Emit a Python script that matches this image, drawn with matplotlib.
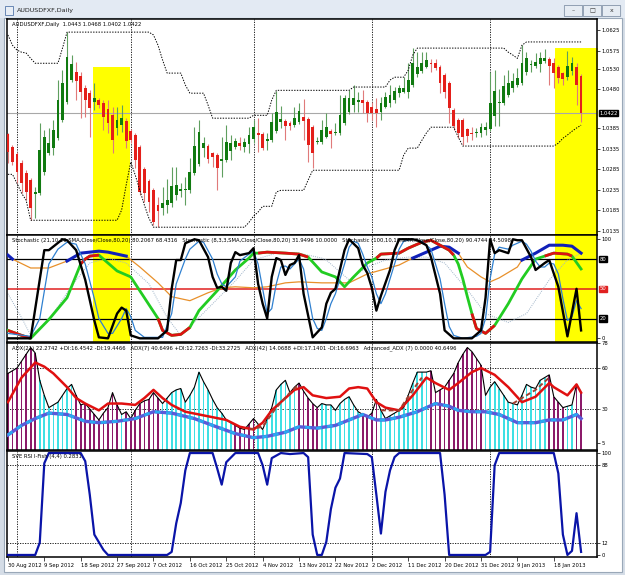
import numpy as np
import matplotlib
matplotlib.use("Agg")
import matplotlib.pyplot as plt
import matplotlib.transforms as mtransforms
from matplotlib.patches import Rectangle, FancyBboxPatch

W, H = 625, 575

## ---- price data (daily AUDUSDFXF) ----
opens = [1.0371, 1.0339, 1.0322, 1.0300, 1.0276, 1.0259, 1.0225, 1.0227, 1.0278, 1.0325,
         1.0337, 1.0361, 1.0405, 1.0449, 1.0503, 1.0522, 1.0513, 1.0483, 1.0471, 1.0449,
         1.0454, 1.0447, 1.0432, 1.0417, 1.0386, 1.0393, 1.0403, 1.0378, 1.0369, 1.0339,
         1.0286, 1.0256, 1.0234, 1.0198, 1.0190, 1.0198, 1.0203, 1.0222, 1.0232, 1.0234,
         1.0234, 1.0276, 1.0298, 1.0337, 1.0342, 1.0325, 1.0320, 1.0305, 1.0308, 1.0330,
         1.0339, 1.0349, 1.0339, 1.0347, 1.0359, 1.0374, 1.0371, 1.0354, 1.0356, 1.0378,
         1.0400, 1.0403, 1.0398, 1.0393, 1.0400, 1.0413, 1.0408, 1.0388, 1.0352, 1.0352,
         1.0364, 1.0378, 1.0374, 1.0374, 1.0398, 1.0425, 1.0442, 1.0449, 1.0454, 1.0449,
         1.0437, 1.0432, 1.0425, 1.0437, 1.0447, 1.0454, 1.0471, 1.0474, 1.0474, 1.0491,
         1.0517, 1.0525, 1.0535, 1.0544, 1.0544, 1.0535, 1.0515, 1.0495, 1.0430, 1.0405,
         1.0405, 1.0383, 1.0374, 1.0374, 1.0374, 1.0381, 1.0383, 1.0415, 1.0447, 1.0447,
         1.0466, 1.0483, 1.0491, 1.0495, 1.0522, 1.0539, 1.0537, 1.0542, 1.0549, 1.0554,
         1.0544, 1.0535, 1.0520, 1.0510, 1.0525, 1.0535, 1.0513]
closes = [1.0327, 1.0303, 1.0278, 1.0251, 1.0230, 1.0190, 1.0230, 1.0332, 1.0364, 1.0349,
          1.0381, 1.0454, 1.0495, 1.0559, 1.0542, 1.0500, 1.0474, 1.0454, 1.0434, 1.0459,
          1.0442, 1.0413, 1.0398, 1.0356, 1.0405, 1.0410, 1.0354, 1.0356, 1.0308, 1.0230,
          1.0227, 1.0205, 1.0156, 1.0183, 1.0203, 1.0210, 1.0244, 1.0247, 1.0237, 1.0237,
          1.0278, 1.0342, 1.0376, 1.0349, 1.0310, 1.0315, 1.0288, 1.0310, 1.0352, 1.0349,
          1.0354, 1.0342, 1.0352, 1.0369, 1.0388, 1.0369, 1.0337, 1.0359, 1.0400, 1.0425,
          1.0408, 1.0391, 1.0391, 1.0410, 1.0427, 1.0403, 1.0344, 1.0325, 1.0354, 1.0381,
          1.0388, 1.0371, 1.0376, 1.0417, 1.0459, 1.0459, 1.0459, 1.0454, 1.0447, 1.0422,
          1.0422, 1.0422, 1.0447, 1.0461, 1.0466, 1.0476, 1.0483, 1.0483, 1.0503, 1.0544,
          1.0535, 1.0544, 1.0552, 1.0542, 1.0532, 1.0495, 1.0474, 1.0434, 1.0391, 1.0374,
          1.0364, 1.0366, 1.0371, 1.0376, 1.0388, 1.0388, 1.0447, 1.0476, 1.0449, 1.0488,
          1.0495, 1.0500, 1.0508, 1.0544, 1.0556, 1.0542, 1.0547, 1.0556, 1.0556, 1.0537,
          1.0520, 1.0508, 1.0505, 1.0537, 1.0544, 1.0491, 1.0422]
highs = [1.0373, 1.0344, 1.0327, 1.0308, 1.0283, 1.0264, 1.0242, 1.0398, 1.0381, 1.0386,
         1.0405, 1.0503, 1.0527, 1.0620, 1.0564, 1.0547, 1.0522, 1.0491, 1.0478, 1.0495,
         1.0459, 1.0454, 1.0454, 1.0437, 1.0437, 1.0442, 1.0410, 1.0383, 1.0374, 1.0344,
         1.0291, 1.0261, 1.0239, 1.0217, 1.0242, 1.0261, 1.0291, 1.0291, 1.0251, 1.0266,
         1.0312, 1.0388, 1.0405, 1.0364, 1.0347, 1.0327, 1.0325, 1.0364, 1.0393, 1.0369,
         1.0361, 1.0364, 1.0361, 1.0388, 1.0405, 1.0410, 1.0376, 1.0374, 1.0422, 1.0476,
         1.0439, 1.0408, 1.0403, 1.0437, 1.0447, 1.0456, 1.0413, 1.0393, 1.0364, 1.0405,
         1.0422, 1.0383, 1.0398, 1.0466, 1.0466, 1.0478, 1.0491, 1.0474, 1.0478, 1.0454,
         1.0449, 1.0459, 1.0461, 1.0474, 1.0491, 1.0486, 1.0491, 1.0510, 1.0544, 1.0581,
         1.0571, 1.0571, 1.0571, 1.0554, 1.0554, 1.0539, 1.0520, 1.0500, 1.0434, 1.0410,
         1.0410, 1.0386, 1.0388, 1.0386, 1.0398, 1.0400, 1.0522, 1.0527, 1.0481, 1.0515,
         1.0527, 1.0520, 1.0532, 1.0588, 1.0571, 1.0552, 1.0569, 1.0571, 1.0578, 1.0559,
         1.0556, 1.0539, 1.0522, 1.0574, 1.0559, 1.0544, 1.0517]
lows = [1.0300, 1.0295, 1.0251, 1.0227, 1.0210, 1.0161, 1.0166, 1.0222, 1.0271, 1.0320,
        1.0320, 1.0356, 1.0400, 1.0444, 1.0498, 1.0454, 1.0410, 1.0413, 1.0364, 1.0430,
        1.0434, 1.0381, 1.0374, 1.0325, 1.0369, 1.0376, 1.0337, 1.0349, 1.0288, 1.0222,
        1.0205, 1.0181, 1.0149, 1.0144, 1.0173, 1.0178, 1.0193, 1.0210, 1.0217, 1.0198,
        1.0227, 1.0271, 1.0293, 1.0315, 1.0300, 1.0291, 1.0234, 1.0266, 1.0303, 1.0308,
        1.0335, 1.0332, 1.0327, 1.0325, 1.0349, 1.0327, 1.0332, 1.0332, 1.0352, 1.0374,
        1.0386, 1.0356, 1.0381, 1.0388, 1.0395, 1.0356, 1.0303, 1.0288, 1.0347, 1.0347,
        1.0361, 1.0337, 1.0369, 1.0369, 1.0393, 1.0420, 1.0425, 1.0425, 1.0422, 1.0400,
        1.0405, 1.0388, 1.0405, 1.0434, 1.0437, 1.0447, 1.0461, 1.0471, 1.0459, 1.0486,
        1.0510, 1.0520, 1.0532, 1.0522, 1.0527, 1.0471, 1.0459, 1.0398, 1.0381, 1.0361,
        1.0344, 1.0352, 1.0356, 1.0364, 1.0364, 1.0369, 1.0378, 1.0391, 1.0391, 1.0442,
        1.0461, 1.0474, 1.0486, 1.0491, 1.0515, 1.0522, 1.0532, 1.0522, 1.0544, 1.0491,
        1.0483, 1.0495, 1.0491, 1.0503, 1.0515, 1.0442, 1.0400]

## channel (dotted envelope)
chan_upper = [1.0613, 1.0588, 1.0576, 1.0571, 1.0569, 1.0556, 1.0544, 1.0544, 1.0544, 1.0544,
              1.0544, 1.0544, 1.0581, 1.0620, 1.0620, 1.0620, 1.0620, 1.0620, 1.0620, 1.0620,
              1.0620, 1.0620, 1.0620, 1.0620, 1.0620, 1.0620, 1.0620, 1.0620, 1.0620, 1.0620,
              1.0620, 1.0620, 1.0613, 1.0588, 1.0552, 1.0520, 1.0520, 1.0520, 1.0520, 1.0491,
              1.0471, 1.0471, 1.0471, 1.0471, 1.0442, 1.0410, 1.0410, 1.0410, 1.0410, 1.0410,
              1.0410, 1.0410, 1.0410, 1.0410, 1.0417, 1.0417, 1.0417, 1.0417, 1.0454, 1.0478,
              1.0478, 1.0478, 1.0478, 1.0478, 1.0478, 1.0478, 1.0478, 1.0478, 1.0478, 1.0478,
              1.0478, 1.0478, 1.0478, 1.0478, 1.0478, 1.0478, 1.0486, 1.0486, 1.0486, 1.0486,
              1.0486, 1.0486, 1.0486, 1.0486, 1.0503, 1.0510, 1.0510, 1.0510, 1.0527, 1.0564,
              1.0581, 1.0581, 1.0581, 1.0581, 1.0581, 1.0581, 1.0581, 1.0581, 1.0581, 1.0581,
              1.0581, 1.0581, 1.0581, 1.0581, 1.0581, 1.0581, 1.0581, 1.0581, 1.0581, 1.0581,
              1.0571, 1.0564, 1.0556, 1.0588, 1.0596, 1.0596, 1.0596, 1.0596, 1.0596, 1.0596,
              1.0596, 1.0596, 1.0596, 1.0596, 1.0596, 1.0596, 1.0596]
chan_lower = [1.0273, 1.0273, 1.0251, 1.0227, 1.0210, 1.0161, 1.0161, 1.0161, 1.0161, 1.0161,
              1.0161, 1.0161, 1.0161, 1.0161, 1.0161, 1.0161, 1.0161, 1.0161, 1.0161, 1.0161,
              1.0161, 1.0161, 1.0161, 1.0161, 1.0161, 1.0186, 1.0247, 1.0303, 1.0271, 1.0234,
              1.0198, 1.0166, 1.0144, 1.0144, 1.0144, 1.0144, 1.0144, 1.0144, 1.0144, 1.0144,
              1.0144, 1.0144, 1.0144, 1.0144, 1.0144, 1.0144, 1.0144, 1.0144, 1.0144, 1.0144,
              1.0144, 1.0144, 1.0144, 1.0156, 1.0171, 1.0181, 1.0195, 1.0195, 1.0195, 1.0230,
              1.0234, 1.0234, 1.0234, 1.0234, 1.0234, 1.0234, 1.0259, 1.0283, 1.0283, 1.0283,
              1.0283, 1.0283, 1.0283, 1.0283, 1.0283, 1.0283, 1.0283, 1.0283, 1.0283, 1.0283,
              1.0283, 1.0283, 1.0283, 1.0283, 1.0283, 1.0283, 1.0283, 1.0320, 1.0337, 1.0337,
              1.0337, 1.0356, 1.0374, 1.0388, 1.0388, 1.0388, 1.0388, 1.0388, 1.0388, 1.0364,
              1.0342, 1.0342, 1.0342, 1.0342, 1.0342, 1.0342, 1.0342, 1.0342, 1.0342, 1.0342,
              1.0342, 1.0342, 1.0342, 1.0342, 1.0342, 1.0342, 1.0342, 1.0342, 1.0342, 1.0342,
              1.0342, 1.0349, 1.0361, 1.0369, 1.0378, 1.0386, 1.0393]

price_ticks = [1.0625, 1.0575, 1.0530, 1.0480, 1.0385, 1.0335, 1.0285, 1.0235, 1.0185, 1.0135]
last_price = 1.0422
highlight_spans = [(18.7, 26.9, 1.0535), (120.3, 130.0, 1.0581)]  # bar range + top price
month_start_bars = [2, 27, 54, 80, 106]
date_labels = ["30 Aug 2012", "9 Sep 2012", "18 Sep 2012", "27 Sep 2012", "7 Oct 2012",
               "16 Oct 2012", "25 Oct 2012", "4 Nov 2012", "13 Nov 2012", "22 Nov 2012",
               "2 Dec 2012", "11 Dec 2012", "20 Dec 2012", "31 Dec 2012", "9 Jan 2013", "18 Jan 2013"]
date_label_bars = list(range(0, 121, 8))

## ---- stochastic panel ----
fast_bars = [0, 5, 8, 9, 12, 13, 15, 17, 19, 20, 22, 24, 25, 26, 27, 29, 33, 35, 36, 37,
             38, 39, 41, 42, 44, 45, 46, 47, 48, 49, 50, 51, 53, 54, 55, 56, 57, 58, 59, 60,
             61, 62, 63, 64, 65, 67, 69, 70, 71, 72, 74, 75, 77, 78, 79, 80, 81, 82, 84, 85,
             86, 89, 90, 92, 93, 95, 96, 98, 102, 104, 105, 106, 107, 108, 110, 111, 112, 113, 115, 116,
             118, 119, 121, 123, 125, 126]
fast_vals = [0, 0, 89, 89, 100, 99, 89, 59, 18, 1, 0, 25, 31, 28, 3, 0, 0, 8, 50, 79,
             79, 96, 100, 99, 82, 62, 51, 52, 48, 76, 87, 84, 86, 91, 55, 35, 20, 62, 81, 79,
             64, 74, 76, 84, 45, 1, 11, 35, 46, 50, 89, 100, 91, 74, 66, 51, 28, 43, 69, 89,
             100, 100, 99, 94, 82, 45, 8, 0, 0, 8, 41, 100, 86, 89, 86, 100, 99, 99, 82, 69,
             76, 79, 52, 2, 50, 8]
sig_bars = [0, 5, 7, 9, 11, 13, 15, 17, 19, 20, 22, 23, 25, 26, 27, 28, 30, 34, 36, 37,
            39, 40, 42, 43, 45, 46, 47, 48, 50, 51, 53, 54, 55, 56, 57, 58, 59, 60, 61, 62,
            63, 64, 65, 66, 67, 68, 69, 70, 71, 72, 73, 74, 75, 76, 77, 78, 79, 80, 81, 82,
            83, 84, 85, 86, 87, 89, 91, 93, 94, 95, 96, 97, 98, 100, 103, 104, 105, 106, 107, 108,
            110, 111, 113, 114, 115, 116, 117, 118, 119, 120, 121, 122, 123, 124, 125, 126]
sig_vals = [5, 2, 20, 75, 90, 97, 95, 75, 40, 20, 5, 5, 20, 30, 22, 8, 1, 1, 25, 55,
            80, 90, 98, 97, 80, 65, 55, 52, 62, 78, 85, 88, 75, 50, 25, 30, 55, 72, 73, 70,
            75, 80, 70, 45, 20, 10, 8, 20, 35, 45, 60, 75, 92, 98, 96, 85, 72, 62, 45, 35,
            45, 60, 75, 90, 98, 100, 98, 90, 75, 60, 35, 12, 3, 0, 2, 5, 20, 60, 85, 92,
            90, 94, 98, 95, 88, 78, 72, 72, 76, 75, 65, 40, 18, 22, 38, 30]
mid_bars = [0, 3, 5, 9, 13, 16, 17, 18, 20, 24, 27, 30, 33, 34, 36, 38, 40, 42, 46, 50,
            53, 54, 55, 57, 61, 64, 66, 69, 72, 74, 76, 79, 81, 82, 86, 88, 91, 93, 95, 97,
            98, 99, 100, 101, 102, 103, 105, 107, 110, 113, 116, 118, 120, 123, 124, 126]
mid_vals = [8, 3, 0, 19, 41, 75, 80, 83, 84, 68, 62, 41, 20, 8, 3, 4, 11, 28, 48, 69,
            81, 86, 86, 87, 86, 85, 82, 67, 62, 52, 62, 76, 81, 85, 86, 91, 97, 99, 94, 89,
            84, 75, 60, 42, 25, 10, 5, 13, 35, 60, 80, 83, 86, 85, 83, 70]
mid_extreme_ranges = [(0, 5), (16, 20), (33, 40), (55, 66), (81, 98), (102, 107), (118, 124)]
slow_bars = [0, 1, 5, 9, 13, 16, 20, 22, 26, 29, 33, 36, 40, 44, 47, 50, 54, 57, 61, 64,
             69, 75, 79, 86, 89, 92, 95, 97, 99, 101, 104, 106, 108, 112, 113, 116, 119, 122, 124, 126]
slow_vals = [84, 80, 71, 71, 78, 86, 88, 87, 83, 72, 56, 42, 38, 46, 51, 52, 51, 52, 56, 57,
             56, 56, 65, 74, 81, 87, 93, 92, 86, 72, 62, 57, 61, 72, 79, 86, 94, 94, 93, 86]
slowsig_bars = [0, 3, 5, 9, 14, 18, 22, 26, 31, 35, 38, 42, 50, 54, 59, 64, 69, 70, 75, 79,
                83, 88, 92, 96, 101, 105, 110, 114, 119, 123, 126]
slowsig_vals = [45, 21, 3, 18, 53, 76, 81, 76, 55, 21, 3, 21, 58, 79, 86, 86, 81, 79, 59, 72,
                79, 82, 82, 76, 49, 25, 16, 25, 59, 79, 86]

## ---- ADX panel ----
adx_hist = [56, 58, 60, 65, 70, 75, 71, 51, 40, 31,
            33, 35, 40, 45, 48, 40, 33, 34, 30, 26,
            22, 27, 31, 42, 33, 26, 28, 23, 29, 34,
            36, 37, 42, 38, 34, 38, 42, 44, 45, 35,
            40, 46, 57, 50, 44, 37, 31, 27, 22, 20,
            18, 16, 15, 19, 23, 19, 15, 23, 31, 44,
            48, 51, 42, 46, 49, 43, 38, 34, 31, 34,
            33, 33, 29, 34, 37, 39, 33, 28, 26, 24,
            27, 37, 29, 23, 25, 27, 29, 31, 40, 49,
            57, 57, 57, 58, 42, 44, 46, 51, 56, 64,
            70, 75, 72, 67, 62, 40, 46, 50, 45, 40,
            35, 34, 33, 40, 48, 46, 45, 51, 53, 55,
            39, 35, 31, 32, 33, 48, 42]
# d = -DI dominant (purple), u = +DI dominant (cyan)
adx_dir = ("ddddddd" "uuuuuuuu" "dddddddddd" "u" "dddddddd" "uuuuuuuuuuuuuuuu" "ddddd"
           "uuuuuuuuu" "ddddd" "uuuuuuuuu" "dddd" "uuuuuuuuuuu" "dddddddddddd"
           "uuuuuuuuuuuuuu" "dddd" "uu" "dd")
adx_red_bars = [0, 3, 6, 8, 10, 13, 15, 17, 20, 22, 25, 28, 30, 32, 34, 36, 39, 42, 45, 48,
                51, 54, 56, 58, 61, 63, 65, 67, 70, 73, 75, 77, 79, 81, 83, 86, 89, 92, 94, 97,
                99, 102, 104, 107, 110, 113, 116, 119, 120, 123, 125, 126]
adx_red_vals = [35, 53, 64, 61, 56, 46, 38, 34, 29, 34, 34, 33, 38, 44, 38, 33, 28, 26, 24, 22,
                17, 15, 20, 29, 38, 44, 46, 40, 38, 39, 45, 46, 45, 35, 31, 29, 40, 53, 49, 44,
                49, 57, 60, 55, 46, 35, 39, 49, 46, 40, 48, 42]
adx_blue_bars = [0, 3, 6, 9, 13, 17, 20, 24, 28, 32, 36, 41, 45, 50, 54, 57, 61, 64, 68, 72,
                 75, 78, 81, 83, 86, 90, 94, 97, 99, 102, 105, 108, 112, 116, 119, 122, 125, 126]
adx_blue_vals = [11, 18, 23, 27, 26, 21, 20, 21, 23, 28, 27, 23, 18, 12, 9, 10, 13, 17, 16, 18,
                 22, 26, 22, 22, 24, 28, 34, 32, 29, 28, 28, 26, 20, 20, 22, 22, 26, 23]
adx_dash_segments = [([53, 56, 59, 62, 64], [15, 17, 31, 42, 48]),
                     ([82, 86, 89, 91], [29, 29, 44, 53]),
                     ([111, 116, 119], [34, 44, 53])]

## ---- SVE RSI I-Fish panel ----
rsi_bars = [0, 6, 7, 8, 9, 16, 17, 18, 19, 21, 22, 35, 36, 37, 38, 39, 40, 45, 46, 47,
            48, 50, 55, 56, 57, 58, 60, 62, 65, 66, 67, 68, 69, 70, 71, 72, 73, 74, 79, 80,
            81, 82, 83, 84, 85, 86, 95, 96, 97, 105, 106, 107, 108, 120, 121, 122, 123, 124, 125, 126]
rsi_vals = [0, 0, 12, 90, 100, 100, 92, 59, 20, 5, 0, 0, 3, 31, 51, 83, 100, 100, 85, 69,
            91, 100, 100, 88, 69, 95, 100, 99, 100, 96, 20, 0, 0, 13, 45, 66, 75, 100, 99, 96,
            59, 21, 62, 83, 96, 100, 100, 59, 0, 0, 3, 88, 100, 100, 80, 20, 0, 4, 41, 3]

XLIM = (-0.2, 129.5)
FS = 3.8


def px_axes(fig, x0, y0, x1, y1):
    """axes placed by pixel box (top-left origin)"""
    return fig.add_axes([x0 / W, 1 - y1 / H, (x1 - x0) / W, (y1 - y0) / H])


def style_panel(ax, ylim, ticks, labels):
    ax.set_xlim(*XLIM)
    ax.set_ylim(*ylim)
    ax.set_facecolor("white")
    for s in ax.spines.values():
        s.set_color("black")
        s.set_linewidth(1.1)
    ax.yaxis.tick_right()
    ax.set_yticks(ticks)
    ax.set_yticklabels(labels)
    ax.tick_params(axis="y", length=2, width=0.5, pad=1, labelsize=FS)
    ax.set_xticks([])
    for b in month_start_bars:
        ax.axvline(b, color="black", lw=0.6, ls=(0, (1.5, 1.5)), zorder=1)


def level_box(ax, y, text, color):
    tr = mtransforms.blended_transform_factory(ax.transAxes, ax.transData)
    ax.text(1.004, y, text, transform=tr, fontsize=FS, color="white", va="center", ha="left",
            bbox=dict(boxstyle="square,pad=0.12", fc=color, ec=color), zorder=10, clip_on=False)


def draw_window(fig):
    fig.patches.append(Rectangle((0, 0), 1, 1, transform=fig.transFigure, fc="#d5dde7", ec="none", zorder=-10))
    fig.patches.append(Rectangle((0, 1 - 18 / H), 1, 18 / H, transform=fig.transFigure,
                                 fc="#e3eaf3", ec="none", zorder=-10))
    fig.patches.append(Rectangle((4 / W, 1 - 572 / H), 618 / W, 554 / H, transform=fig.transFigure,
                                 fc="white", ec="#9aa8b8", lw=0.8, zorder=-9))
    fig.patches.append(Rectangle((5 / W, 1 - 15 / H), 8 / W, 9 / H, transform=fig.transFigure,
                                 fc="#e8eef6", ec="#5577aa", lw=0.6))
    fig.text(17 / W, 1 - 10.5 / H, "AUDUSDFXF,Daily", fontsize=4.6, va="center", color="#222222")
    for x0, glyph in [(565, "\u2013"), (584, "\u25a1"), (603, "x")]:
        fig.patches.append(FancyBboxPatch((x0 / W, 1 - 16 / H), 17 / W, 10 / H, transform=fig.transFigure,
                                          boxstyle="round,pad=0.001", fc="#e6ecf3", ec="#8393a8", lw=0.6))
        fig.text((x0 + 8.5) / W, 1 - 11 / H, glyph, fontsize=4.5, ha="center", va="center", color="#333333")


def plot_main(ax):
    style_panel(ax, (1.0125, 1.0652), price_ticks, ["%.4f" % t for t in price_ticks])
    for a, b, top in highlight_spans:
        ax.fill_between([a, b], 1.0125, top, color="#ffff00", lw=0, zorder=0)
    bars = np.arange(len(opens))
    o, c, h, l = map(np.array, (opens, closes, highs, lows))
    up = c >= o
    body_col = np.where(up, "#107a10", "#e41f1a")
    wick_col = np.where(up, "#5f9f5f", "#e07a7a")
    ax.vlines(bars, l, h, colors=wick_col, lw=0.8, zorder=3)
    body = np.maximum(np.abs(c - o), 0.00022)
    ax.bar(bars, body, bottom=np.minimum(o, c), width=0.62, color=body_col, lw=0, zorder=4)
    ax.plot(bars, chan_upper, color="black", lw=0.7, ls=(0, (1.4, 1.4)), zorder=5)
    ax.plot(bars, chan_lower, color="black", lw=0.7, ls=(0, (1.4, 1.4)), zorder=5)
    ax.axhline(last_price, color="#a8a8a8", lw=0.8, zorder=2)
    level_box(ax, last_price, "%.4f" % last_price, "black")
    ax.text(0.008, 0.985, "AUDUSDFXF,Daily  1.0443 1.0468 1.0402 1.0422", transform=ax.transAxes,
            fontsize=FS, va="top", ha="left", zorder=10)


def plot_stoch(ax):
    style_panel(ax, (-3.7, 104.3), [100, 0], ["100", "0"])
    for a, b, top in highlight_spans:
        ax.axvspan(a, b, color="#ffff00", lw=0, zorder=0)
    ax.axhline(80, color="black", lw=0.9, zorder=1)
    ax.axhline(20, color="black", lw=0.9, zorder=1)
    ax.axhline(50, color="#e02020", lw=1.1, zorder=1)
    level_box(ax, 80, "80", "black")
    level_box(ax, 50, "50", "#e02020")
    level_box(ax, 20, "20", "black")

    ax.plot(slowsig_bars, slowsig_vals, color="#9fb4c8", lw=0.7, ls=(0, (1, 1.2)), zorder=2)
    sb, sv = np.array(slow_bars), np.array(slow_vals, dtype=float)
    ax.plot(sb, sv, color="#e8902a", lw=0.9, zorder=3)
    ax.plot(sb, np.where(sv >= 78, sv, np.nan), color="#1020b8", lw=2.2, zorder=4)

    mb, mv = np.array(mid_bars), np.array(mid_vals, dtype=float)
    ax.plot(mb, mv, color="#22cc22", lw=2.0, zorder=5)
    for a, b in mid_extreme_ranges:
        m = (mb >= a) & (mb <= b)
        ax.plot(mb[m], mv[m], color="#dd1111", lw=2.0, zorder=6, solid_capstyle="butt")

    ax.plot(sig_bars, sig_vals, color="#2f80d0", lw=0.9, zorder=7)
    ax.plot(fast_bars, fast_vals, color="black", lw=1.7, zorder=8)
    ax.text(0.008, 0.975,
            "Stochastic (21,10,10,SMA,Close/Close,80,20) 80.2067 68.4316   "
            "Stochastic (8,3,3,SMA,Close/Close,80,20) 31.9496 10.0000   "
            "Stochastic (100,10,10,SMA,Close/Close,80,20) 90.4744 84.5098",
            transform=ax.transAxes, fontsize=FS, va="top", ha="left", zorder=10)


def plot_adx(ax):
    style_panel(ax, (0, 78.3), [78, 60, 30, 5], ["78", "60", "30", "5"])
    ax.axhline(60, color="black", lw=0.6, ls=(0, (1.5, 1.5)), zorder=1)
    ax.axhline(30, color="black", lw=0.6, ls=(0, (1.5, 1.5)), zorder=1)
    bars = np.arange(len(adx_hist))
    cols = ["#8c1a6a" if d == "d" else "#3fe0e4" for d in adx_dir]
    ax.bar(bars, adx_hist, width=0.38, color=cols, lw=0, zorder=2)
    ax.plot(bars, adx_hist, color="black", lw=0.8, zorder=3)
    ax.plot(adx_blue_bars, adx_blue_vals, color="#5a5ad8", lw=2.4, zorder=4)
    ax.plot(adx_blue_bars, adx_blue_vals, color="#2aa8f0", lw=2.0, ls=(0, (2, 2)), zorder=5)
    ax.plot(adx_red_bars, adx_red_vals, color="#e01010", lw=1.8, zorder=5)
    for xs, ys in adx_dash_segments:
        ax.plot(xs, ys, color="#a04030", lw=1.4, ls=(0, (2.5, 1.5)), zorder=6)
    ax.text(0.008, 0.975,
            "ADX(21) 22.2742 +DI:16.4542 -DI:19.4466   ADX(7) 40.6496 +DI:12.7263 -DI:33.2725   "
            "ADX(42) 14.0688 +DI:17.1401 -DI:16.6963   Advanced_ADX (7) 0.0000 40.6496",
            transform=ax.transAxes, fontsize=FS, va="top", ha="left", zorder=10)


def plot_rsi(ax):
    style_panel(ax, (-2, 102), [100, 88, 12, 0], ["100", "88", "12", "0"])
    ax.axhline(88, color="black", lw=0.6, ls=(0, (1.5, 1.5)), zorder=1)
    ax.axhline(12, color="black", lw=0.6, ls=(0, (1.5, 1.5)), zorder=1)
    ax.plot(rsi_bars, rsi_vals, color="#0a14a8", lw=1.6, zorder=3)
    ax.text(0.008, 0.975, "SVE RSI I-Fish (4,4) 0.2831", transform=ax.transAxes,
            fontsize=FS, va="top", ha="left", zorder=10)
    ax.set_xticks(date_label_bars)
    ax.set_xticklabels(date_labels, ha="left")
    ax.tick_params(axis="x", length=3, width=0.5, pad=1.5, labelsize=FS)


def main():
    fig = plt.figure(figsize=(W / 100, H / 100), dpi=100)
    draw_window(fig)
    ax_main = px_axes(fig, 7, 19, 597, 235)
    ax_stoch = px_axes(fig, 7, 235, 597, 342)
    ax_adx = px_axes(fig, 7, 343, 597, 450)
    ax_rsi = px_axes(fig, 7, 451, 597, 557)
    plot_main(ax_main)
    plot_stoch(ax_stoch)
    plot_adx(ax_adx)
    plot_rsi(ax_rsi)
    fig.savefig("out.png", dpi=100)


main()
